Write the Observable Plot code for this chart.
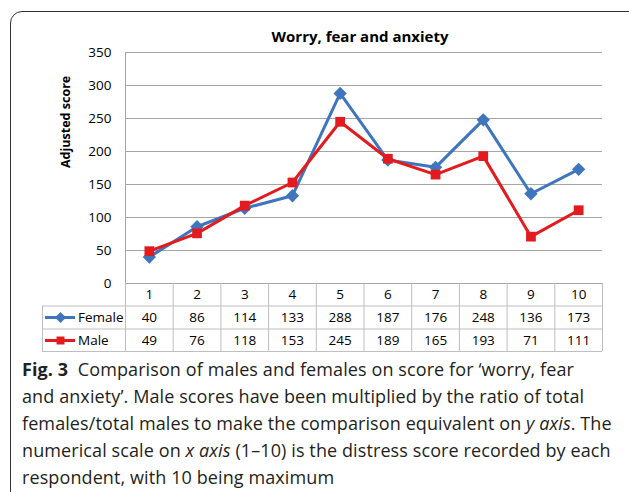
<!DOCTYPE html>
<html><head><meta charset="utf-8">
<script src="https://cdn.jsdelivr.net/npm/d3@7"></script>
<script src="https://cdn.jsdelivr.net/npm/@observablehq/plot@0.6"></script>
<style>
html,body{margin:0;padding:0;background:#fff}
body{width:629px;height:492px;overflow:hidden;position:relative;font-family:"Open Sans",sans-serif}
#frame{position:absolute;left:10px;top:11px;width:640px;height:540px;border:1.5px solid #333;border-radius:12px;box-sizing:border-box}
#chart{position:absolute;left:0;top:0}
#cap{position:absolute;left:22px;top:356px;font-size:18px;line-height:27px;color:#231f20;white-space:nowrap;letter-spacing:0.1px}
#cap b{font-weight:700}
</style></head>
<body>
<div id="frame"></div>
<div id="chart"></div>
<div id="cap"><b>Fig. 3</b>&nbsp; Comparison of males and females on score for ‘worry, fear<br>and anxiety’. Male scores have been multiplied by the ratio of total<br>females/total males to make the comparison equivalent on <i>y axis</i>. The<br>numerical scale on <i>x axis</i> (1–10) is the distress score recorded by each<br>respondent, with 10 being maximum</div>
<script>
const scores = [1, 2, 3, 4, 5, 6, 7, 8, 9, 10];
const female = [40, 86, 114, 133, 288, 187, 176, 248, 136, 173];
const male = [49, 76, 118, 153, 245, 189, 165, 193, 71, 111];
const yTicks = [0, 50, 100, 150, 200, 250, 300, 350];
const seriesNames = ["Female", "Male"];
const seriesColors = ["#3F75BC", "#E31B1F"];
const seriesSymbols = ["diamond2", "square"];
const title = "Worry, fear and anxiety";
const yLabel = "Adjusted score";

// layout helpers (pixel -> y units: 350 units over 231 px)
const u = 350 / 231;
const rowB = [0, -22.5 * u, -45.5 * u, -68 * u];      // table row boundaries
const rowC = [-11 * u, -34 * u, -57 * u];             // table row centres
const colW = 47.7;
const tableLeft = 0.5 - 83 / colW;
const legL = 0.5 - 80 / colW, legR = 0.5 - 50 / colW, legM = 0.5 - 65 / colW, legT = 0.5 - 47.5 / colW;

const femaleData = scores.map((s, i) => ({x: s, y: female[i]}));
const maleData = scores.map((s, i) => ({x: s, y: male[i]}));
const seriesData = [femaleData, maleData];
const seriesValues = [female, male];
const bounds = d3.range(0.5, 11, 1);
const grid = "#a6a6a6", tbl = "#bfbfbf";

const marks = [
  Plot.ruleY(yTicks, {y: d => d, x1: 0.5, x2: 10.5, stroke: grid, strokeWidth: 1}),
  Plot.ruleX([0.5], {x: d => d, y1: 0, y2: 350, stroke: grid}),
  Plot.ruleY(rowB.slice(1), {y: d => d, x1: tableLeft, x2: 10.5, stroke: tbl}),
  Plot.ruleX(bounds, {x: d => d, y1: 0, y2: rowB[3], stroke: tbl}),
  Plot.ruleX([tableLeft], {x: d => d, y1: rowB[1], y2: rowB[3], stroke: tbl}),
  Plot.text(scores, {x: d => d, y: rowC[0], text: d => String(d), fontSize: 13.5, fill: "#000"}),
  Plot.axisY(yTicks, {tickSize: 0, tickPadding: 14, fontSize: 13.5, label: null, fill: "#000"}),
  Plot.text([yLabel], {frameAnchor: "left", dx: -60, rotate: -90, fontWeight: "bold", fontSize: 12.5, fill: "#000"}),
  Plot.text([title], {frameAnchor: "top", lineAnchor: "middle", dy: -15, dx: -4, fontWeight: "bold", fontSize: 15, fill: "#000"})
];
seriesNames.forEach((name, k) => {
  const c = seriesColors[k];
  marks.push(
    Plot.text(seriesValues[k], {x: (d, i) => scores[i], y: rowC[k + 1], text: d => String(d), fontSize: 13.5, fill: "#000"}),
    Plot.ruleY([rowC[k + 1]], {y: d => d, x1: legL, x2: legR, stroke: c, strokeWidth: 3}),
    Plot.dot([rowC[k + 1]], {y: d => d, x: legM, symbol: seriesSymbols[k], r: k ? 4.5 : 5, fill: c, stroke: "none"}),
    Plot.text([name], {x: legT, y: rowC[k + 1], text: d => d, textAnchor: "start", fontSize: 13.5, fill: "#000"}),
    Plot.line(seriesData[k], {x: "x", y: "y", stroke: c, strokeWidth: 3}),
    Plot.dot(seriesData[k], {x: "x", y: "y", symbol: seriesSymbols[k], r: k ? 5.5 : 6, fill: c, stroke: "none"})
  );
});

const plot = Plot.plot({
  width: 629, height: 355,
  marginTop: 52, marginBottom: 72, marginLeft: 125, marginRight: 27,
  style: {fontFamily: "'Open Sans', sans-serif", background: "transparent", overflow: "visible"},
  x: {domain: [0.5, 10.5], axis: null},
  y: {domain: [0, 350], nice: false, axis: null},
  marks
});
document.getElementById("chart").append(plot);
</script>
</body></html>
